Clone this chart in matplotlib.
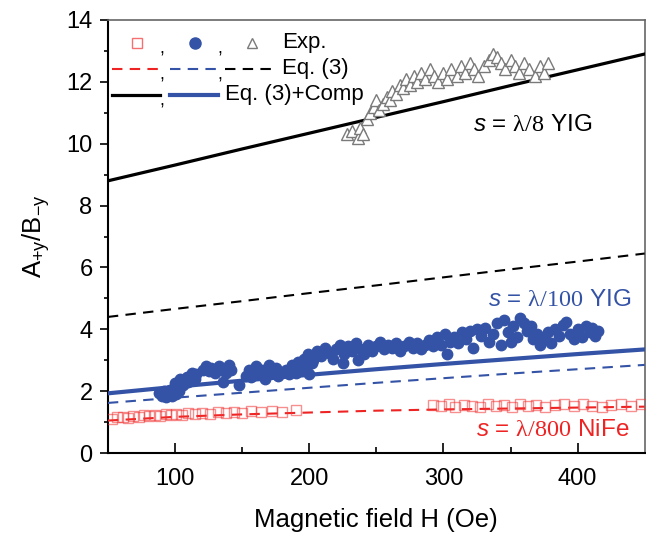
import matplotlib

matplotlib.use("Agg")
import matplotlib.pyplot as plt

plt.rcParams["font.family"] = ["Liberation Sans", "DejaVu Sans"]
plt.rcParams["mathtext.fontset"] = "custom"
plt.rcParams["mathtext.rm"] = "Liberation Serif"
plt.rcParams["mathtext.it"] = "Liberation Sans:italic"
plt.rcParams["mathtext.sf"] = "Liberation Sans"

BLUE = "#3453a6"
RED = "#ee2424"

# Model curves
H_MODEL = [50, 100, 150, 200, 250, 300, 350, 400, 450]
YIG8_COMP = [8.80, 9.31, 9.83, 10.34, 10.85, 11.36, 11.88, 12.39, 12.90]
YIG8_EQ3 = [4.40, 4.66, 4.91, 5.17, 5.42, 5.68, 5.94, 6.19, 6.45]
YIG100_COMP = [1.93, 2.14, 2.34, 2.53, 2.71, 2.88, 3.04, 3.20, 3.35]
YIG100_EQ3 = [1.62, 1.79, 1.95, 2.11, 2.27, 2.42, 2.57, 2.71, 2.85]
NIFE_EQ3 = [1.05, 1.17, 1.25, 1.31, 1.37, 1.41, 1.44, 1.47, 1.50]

# Experimental points, lambda/8 YIG (triangles)
H_YIG8 = [228, 232, 236, 238, 240, 243, 245, 248, 250, 252, 255, 258, 260, 262,
          265, 268, 270, 272, 275, 278, 280, 283, 286, 290, 293, 296, 300, 303,
          306, 310, 313, 316, 320, 323, 326, 330, 334, 337, 340, 343, 346, 350,
          353, 356, 360, 364, 368, 372, 375, 378]
A_YIG8 = [10.3, 10.4, 10.2, 10.5, 10.3, 10.8, 11.0, 11.2, 11.4, 11.1, 11.3, 11.5,
          11.4, 11.7, 11.6, 11.9, 11.8, 12.1, 11.9, 12.2, 12.0, 12.3, 12.1, 12.4,
          12.2, 12.0, 12.3, 12.1, 12.4, 12.2, 12.5, 12.3, 12.6, 12.4, 12.2, 12.5,
          12.7, 12.9, 12.8, 12.6, 12.4, 12.7, 12.5, 12.3, 12.6, 12.4, 12.2, 12.5,
          12.3, 12.6]

# Experimental points, lambda/100 YIG (filled circles)
H_YIG100 = [88, 90, 92, 93, 95, 96, 98, 99, 100, 101, 103, 104,
            100, 102, 104, 106, 107, 109, 110, 112, 113, 115, 116,
            121, 123, 125, 127, 130, 133, 135, 136, 138, 140, 142, 148,
            153, 155, 157, 160, 162, 165, 167, 170, 172, 175, 177,
            183, 185, 187, 190, 192, 195, 198, 200, 202,
            196, 199, 203, 206, 209, 212, 215, 218,
            220, 223, 226, 229, 232, 235, 238, 241, 244, 247, 250, 253, 225, 236,
            256, 259, 262, 265, 268, 271, 274, 277, 280, 283, 286, 289, 292, 295,
            298, 301, 303,
            305, 308, 311, 314, 317, 320, 322, 325, 328, 331, 334, 337, 340, 343,
            345, 348, 350, 352, 355, 357, 360, 362, 365, 367, 370, 372,
            375, 378, 380, 383, 386, 389, 391, 394, 397, 400, 403, 406, 409, 411,
            413, 415]
A_YIG100 = [1.95, 1.85, 2.0, 1.8, 1.9, 2.05, 1.85, 1.95, 2.1, 1.9, 2.0, 2.15,
            2.25, 2.3, 2.4, 2.2, 2.35, 2.45, 2.3, 2.5, 2.6, 2.4, 2.55,
            2.7, 2.8, 2.65, 2.75, 2.6, 2.8, 2.7, 2.3, 2.6, 2.85, 2.7, 2.2,
            2.5, 2.7, 2.45, 2.8, 2.55, 2.7, 2.4, 2.85, 2.6, 2.75, 2.5,
            2.7, 2.55, 2.85, 2.6, 2.95, 2.7, 2.8, 2.55, 2.9,
            3.05, 3.2, 3.0, 3.3, 3.15, 3.4, 3.25, 3.05,
            3.35, 3.5, 3.2, 3.45, 3.3, 3.55, 3.35, 3.2, 3.5, 3.3, 3.45, 3.6, 2.9, 3.0,
            3.35, 3.5, 3.4, 3.55, 3.3, 3.45, 3.6, 3.4, 3.55, 3.35, 3.5, 3.65, 3.45,
            3.75, 3.5, 3.85, 3.2,
            3.6, 3.75, 3.55, 3.9, 3.7, 3.95, 3.4, 4.0, 3.8, 4.05, 3.6, 3.85, 4.2,
            3.5, 4.3, 3.9, 3.6, 4.1, 3.75, 4.35, 4.2, 3.95, 4.1, 3.7, 3.85, 3.5,
            3.75, 3.9, 3.55, 4.0, 3.8, 4.15, 4.25, 3.85, 3.7, 4.0, 3.75, 4.1, 3.9,
            4.05, 3.8, 3.95]

# Experimental points, lambda/800 NiFe (open squares)
H_NIFE = [53, 57, 61, 65, 69, 73, 77, 81, 85, 89, 93, 97, 101, 105, 110, 115,
          120, 126, 132, 138, 144, 150, 157, 164, 172, 180, 190,
          292, 298, 304, 309, 315, 321, 327, 333, 339, 345, 351, 357, 363, 369,
          376, 383, 390, 397, 404, 411, 418, 425, 432, 440, 447]
A_NIFE = [1.10, 1.15, 1.18, 1.13, 1.20, 1.17, 1.22, 1.19, 1.24, 1.21, 1.25, 1.22,
          1.27, 1.24, 1.29, 1.26, 1.30, 1.27, 1.32, 1.29, 1.33, 1.30, 1.35, 1.32,
          1.36, 1.34, 1.40,
          1.55, 1.52, 1.58, 1.50, 1.56, 1.53, 1.48, 1.57, 1.51, 1.55, 1.49, 1.58,
          1.52, 1.56, 1.50, 1.54, 1.59, 1.51, 1.57, 1.53, 1.49, 1.56, 1.60, 1.52,
          1.58]

DASH = (0, (5, 3.5))


def main():
    fig = plt.figure(figsize=(6.46, 5.33), dpi=100)
    ax = fig.add_axes([0.167, 0.150, 0.831, 0.8125])

    # Model curves
    ax.plot(H_MODEL, YIG8_COMP, color="k", lw=2.3, zorder=3)
    ax.plot(H_MODEL, YIG8_EQ3, color="k", lw=1.5, linestyle=DASH, zorder=3)
    ax.plot(H_MODEL, YIG100_COMP, color=BLUE, lw=3.0, zorder=3)
    ax.plot(H_MODEL, YIG100_EQ3, color=BLUE, lw=1.5, linestyle=DASH, zorder=3)
    ax.plot(H_MODEL, NIFE_EQ3, color=RED, lw=1.5, linestyle=DASH, zorder=3)

    # Experimental data
    ax.plot(H_NIFE, A_NIFE, "s", ms=6.5, mfc="none", mec=(0.95, 0.2, 0.2, 0.55),
            mew=1.0, zorder=4)
    ax.plot(H_YIG100, A_YIG100, "o", ms=7.5, color=BLUE, mec=BLUE, zorder=4)
    ax.plot(H_YIG8, A_YIG8, "^", ms=8, mfc="white", mec="#7a7a7a", mew=1.0,
            zorder=4)

    # Hand-made legend, as in the original figure
    t = ax.transAxes
    r1, r2, r3 = 0.947, 0.887, 0.827
    ax.plot([0.054], [r1], "s", ms=7, mfc="none", mec=(0.95, 0.2, 0.2, 0.7),
            transform=t, clip_on=False)
    ax.plot([0.162], [r1], "o", ms=8, color=BLUE, transform=t)
    ax.plot([0.268], [r1], "^", ms=7, mfc="white", mec="#7a7a7a", transform=t)
    ax.plot([0.007, 0.097], [r2, r2], color=RED, lw=1.5, linestyle=DASH,
            transform=t)
    ax.plot([0.115, 0.205], [r2, r2], color=BLUE, lw=1.5, linestyle=DASH,
            transform=t)
    ax.plot([0.218, 0.311], [r2, r2], color="k", lw=1.5, linestyle=DASH,
            transform=t)
    ax.plot([0.007, 0.097], [r3, r3], color="k", lw=2.3, transform=t)
    ax.plot([0.115, 0.205], [r3, r3], color=BLUE, lw=3.0, transform=t)
    for row in (r1, r2):
        ax.text(0.100, row - 0.014, ",", fontsize=13, transform=t, ha="center",
                va="center")
        ax.text(0.209, row - 0.014, ",", fontsize=13, transform=t, ha="center",
                va="center")
    ax.text(0.100, r3 - 0.014, ",", fontsize=13, transform=t, ha="center",
            va="center")
    ax.text(0.324, r1, "Exp.", fontsize=16, transform=t, va="center")
    ax.text(0.324, r2, "Eq. (3)", fontsize=16, transform=t, va="center")
    ax.text(0.218, r3, "Eq. (3)+Comp", fontsize=16, transform=t, va="center")

    # Annotations
    ax.text(322, 10.6, r"$\mathit{s}$ = $\mathrm{\lambda/8}$ YIG", fontsize=17.5,
            va="center")
    ax.text(333, 4.95, r"$\mathit{s}$ = $\mathrm{\lambda/100}$ YIG",
            fontsize=17.5, va="center", color=BLUE)
    ax.text(324, 0.75, r"$\mathit{s}$ = $\mathrm{\lambda/800}$ NiFe",
            fontsize=17.5, va="center", color=RED)

    # Axes
    ax.set_xlim(50, 450)
    ax.set_ylim(0, 14)
    ax.set_xticks([100, 200, 300, 400])
    ax.set_xticks([150, 250, 350], minor=True)
    ax.set_yticks(range(0, 15, 2))
    ax.set_yticks(range(1, 14, 2), minor=True)
    ax.tick_params(axis="x", which="major", direction="in", length=7, width=1.2,
                   labelsize=17, pad=11)
    ax.tick_params(axis="x", which="minor", direction="in", length=4, width=1.2)
    ax.tick_params(axis="y", which="major", direction="out", length=6, width=1.2,
                   labelsize=17, pad=5)
    ax.tick_params(axis="y", which="minor", direction="out", length=3, width=1.2)
    ax.set_xlabel("Magnetic field H (Oe)", fontsize=18.5, labelpad=13)
    ax.set_ylabel(r"A$_{\mathsf{+y}}$/B$_{\mathsf{-y}}$", fontsize=18.5,
                  labelpad=10)

    for side in ("left", "bottom"):
        ax.spines[side].set_linewidth(1.5)
        ax.spines[side].set_color("k")
    for side in ("top", "right"):
        ax.spines[side].set_linewidth(1.2)
        ax.spines[side].set_color("#666666")

    fig.savefig("out.png", dpi=100)


if __name__ == "__main__":
    main()
